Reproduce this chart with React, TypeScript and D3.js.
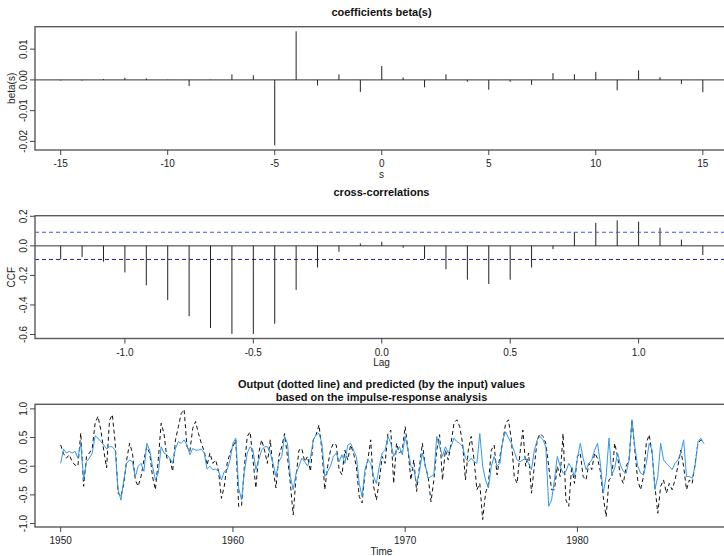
import * as d3 from "d3";

// impulse-response weights beta(s), s = -15..15
const betaLags = [-15, -14, -13, -12, -11, -10, -9, -8, -7, -6, -5, -4, -3, -2, -1, 0, 1, 2, 3, 4, 5, 6, 7, 8, 9, 10, 11, 12, 13, 14, 15];
const betaValues = [
  -0.0002, -0.0002, 0.0003, 0.0007, 0.0005, 0.0001, -0.002, 0.0001, 0.0018, 0.0015,
  -0.0213, 0.0158, -0.0018, 0.0018, -0.0039, 0.0045, 0.0008, -0.0024, 0.0018, -0.0006,
  -0.0032, -0.0006, -0.0016, 0.0022, 0.0018, 0.0026, -0.0034, 0.0031, 0.0009, -0.0013, -0.004,
];

// cross-correlations, lag in months -15..15
const ccfLagMonths = [-15, -14, -13, -12, -11, -10, -9, -8, -7, -6, -5, -4, -3, -2, -1, 0, 1, 2, 3, 4, 5, 6, 7, 8, 9, 10, 11, 12, 13, 14, 15];
const ccfValues = [
  -0.091, -0.076, -0.107, -0.18, -0.267, -0.367, -0.476, -0.556, -0.596, -0.596,
  -0.527, -0.298, -0.147, -0.04, 0.016, 0.027, -0.013, -0.089, -0.158, -0.229,
  -0.258, -0.229, -0.147, -0.022, 0.093, 0.156, 0.173, 0.164, 0.122, 0.042, -0.062,
];
const ccfBound = 0.092;

// output / predicted, sampled every 2 months from 1950
const seriesStart = 1950;
const seriesPerYear = 6;
const outputSeries = [
  0.37, 0.22, 0.14, 0.2, 0.08, 0.02, // 1950
  0.0, 0.58, -0.35, 0.17, 0.23, 0.31,
  0.75, 0.87, 0.63, 0.28, -0.03, 0.8,
  0.9, 0.4, -0.47, -0.53, -0.3, 0.11,
  0.4, 0.23, -0.24, -0.35, -0.18, 0.11,
  0.34, 0.23, -0.18, -0.41, 0.11, 0.75, // 1955
  0.57, 0.14, 0.14, -0.09, 0.46, 0.69,
  0.92, 0.99, 0.34, 0.26, 0.66, 0.78,
  0.57, 0.4, 0.26, 0.02, 0.23, 0.05,
  0.11, -0.09, -0.56, -0.35, 0.05, 0.23,
  0.34, 0.46, -0.7, -0.7, 0.0, 0.52, // 1960
  0.6, 0.11, -0.38, 0.23, 0.46, 0.28,
  0.05, 0.46, -0.06, -0.38, 0.17, 0.34,
  0.57, 0.17, -0.3, -0.85, -0.18, 0.28,
  0.31, 0.08, 0.17, -0.09, 0.46, 0.55,
  0.72, 0.28, -0.41, 0.0, 0.28, 0.4, // 1965
  0.37, -0.06, -0.15, 0.28, 0.11, 0.37,
  0.23, 0.0, -0.53, -0.64, -0.12, 0.11,
  0.46, -0.35, -0.59, -0.24, 0.17, 0.05,
  0.57, 0.63, -0.3, 0.4, 0.23, 0.28,
  0.69, 0.28, -0.24, 0.11, -0.44, 0.0, // 1970
  0.4, 0.0, -0.18, -0.62, -0.24, 0.28,
  0.55, -0.24, 0.28, 0.11, 0.4, 0.75,
  0.81, 0.69, 0.4, -0.24, 0.28, 0.52,
  0.11, -0.41, -0.3, -0.93, -0.47, -0.3,
  0.28, 0.37, -0.15, 0.17, 0.43, 0.75, // 1975
  0.81, 0.46, -0.18, -0.3, 0.23, 0.63,
  0.0, 0.23, -0.47, 0.0, 0.46, 0.57,
  0.52, 0.4, 0.0, -0.41, -0.41, 0.0,
  -0.18, 0.57, -0.59, -0.7, 0.0, -0.3,
  0.17, 0.23, -0.18, -0.24, 0.05, -0.06, // 1980
  0.23, 0.14, -0.09, -0.53, -0.88, -0.24,
  -0.18, 0.4, 0.17, -0.18, -0.3, 0.0,
  0.11, 0.81, 0.28, -0.24, -0.41, -0.18,
  0.4, 0.55, 0.23, -0.35, -0.82, -0.35,
  -0.24, -0.47, -0.3, -0.41, -0.24, 0.0, // 1985
  0.28, 0.0, -0.41, -0.24, -0.3, 0.05,
  0.4, 0.46, 0.4,
];
const predictedSeries = [
  0.05, 0.3, 0.23, 0.26, 0.23, 0.26, // 1950
  0.14, 0.4, -0.24, 0.08, 0.14, 0.23,
  0.53, 0.49, 0.43, 0.37, 0.3, 0.34,
  0.34, 0.28, -0.41, -0.59, -0.24, 0.05,
  0.11, 0.08, -0.18, 0.0, 0.05, -0.09,
  0.4, 0.28, 0.0, -0.24, -0.12, 0.34, // 1955
  0.23, 0.2, 0.14, 0.05, 0.31, 0.43,
  0.4, 0.46, 0.37, 0.2, 0.31, 0.28,
  0.28, 0.3, 0.23, -0.05, 0.0, -0.06,
  -0.05, -0.09, -0.24, -0.09, -0.06, 0.11,
  0.4, 0.49, -0.38, -0.59, -0.09, 0.23, // 1960
  0.34, 0.28, -0.06, 0.11, 0.28, 0.34,
  0.34, 0.23, 0.05, -0.18, 0.08, 0.17,
  0.52, 0.4, -0.18, -0.41, -0.12, 0.0,
  0.14, 0.08, 0.0, 0.14, 0.46, 0.55,
  0.57, 0.4, -0.18, -0.09, 0.0, 0.17, // 1965
  0.23, 0.08, 0.2, 0.05, 0.37, 0.4,
  0.28, 0.17, -0.3, -0.53, -0.06, 0.11,
  0.05, -0.18, -0.3, 0.0, 0.23, 0.28,
  0.52, 0.4, 0.17, 0.28, 0.34, 0.2,
  0.52, 0.28, 0.0, -0.06, -0.3, -0.09, // 1970
  0.23, 0.02, -0.21, -0.18, -0.15, 0.52,
  0.34, 0.17, 0.34, 0.23, 0.34, 0.49,
  0.43, 0.4, 0.34, 0.14, 0.08, 0.14,
  0.08, 0.05, 0.57, 0.0, -0.24, -0.38,
  0.0, 0.17, 0.0, 0.05, 0.46, 0.6, // 1975
  0.49, 0.4, 0.26, 0.11, 0.08, 0.11,
  0.14, 0.05, -0.06, 0.28, 0.46, 0.52,
  0.46, 0.34, -0.7, -0.59, -0.24, 0.17,
  0.0, -0.12, -0.09, 0.05, -0.03, -0.18,
  0.14, 0.4, 0.14, -0.06, 0.05, 0.11, // 1980
  0.28, 0.4, 0.05, -0.47, -0.18, 0.49,
  -0.15, -0.03, 0.23, 0.02, -0.09, -0.12,
  0.11, 0.81, 0.34, 0.0, -0.12, -0.15,
  0.05, 0.4, 0.28, -0.41, -0.18, 0.4,
  0.11, 0.05, 0.0, -0.06, 0.05, 0.11, // 1985
  0.23, 0.46, -0.18, -0.18, -0.21, 0.0,
  0.43, 0.49, 0.4,
];

const W = 724;
const H = 556;
const FONT = "'Liberation Sans', Arial, Helvetica, sans-serif";
const BOX = "#5a5a5a";
const AXIS = "#444";

const fmt2 = (v: number) => (v === 0 ? "0.00" : v.toFixed(2));
const fmt1 = (v: number) => v.toFixed(1);

function XTicks({ x, ticks, y0, fmt }: any) {
  return (
    <g>
      {ticks.map((t: number) => (
        <g key={t}>
          <line x1={x(t)} x2={x(t)} y1={y0} y2={y0 + 5} stroke={AXIS} />
          <text x={x(t)} y={y0 + 17} textAnchor="middle" fontSize={10} fill="#222">
            {fmt(t)}
          </text>
        </g>
      ))}
    </g>
  );
}

function YTicks({ y, ticks, x0, fmt }: any) {
  return (
    <g>
      {ticks.map((t: number) => (
        <g key={t}>
          <line x1={x0 - 5} x2={x0} y1={y(t)} y2={y(t)} stroke={AXIS} />
          <text
            transform={`translate(${x0 - 8},${y(t)}) rotate(-90)`}
            textAnchor="middle"
            fontSize={10}
            fill="#222"
          >
            {fmt(t)}
          </text>
        </g>
      ))}
    </g>
  );
}

export default function App() {
  const L = 35;
  const R = 728.5;

  /* ---------- top: beta(s) ---------- */
  const xB = d3.scaleLinear().domain([-16.2, 16.2]).range([L, R]);
  const yB = d3.scaleLinear().domain([-0.0228, 0.0173]).range([150, 26.7]);

  /* ---------- middle: ccf ---------- */
  const xC = d3.scaleLinear().domain([-1.35, 1.35]).range([L, R]);
  const yC = d3.scaleLinear().domain([-0.627, 0.204]).range([338.5, 215.7]);

  /* ---------- bottom: series ---------- */
  const xT = d3.scaleLinear().domain([1948.51, 1988.83]).range([L, 729.5]);
  const yT = d3.scaleLinear().domain([-1.06, 1.08]).range([527, 404.3]);
  const tOf = (i: number) => seriesStart + i / seriesPerYear;
  const line = d3
    .line<number>()
    .x((_, i) => xT(tOf(i)))
    .y((d) => yT(d));

  return (
    <div style={{ position: "absolute", left: 0, top: 0 }}>
      <svg width={W} height={H} style={{ display: "block", background: "#fff" }} fontFamily={FONT}>
        {/* top panel */}
        <text x={381.5} y={15.5} textAnchor="middle" fontSize={11} fontWeight="bold" fill="#111">
          coefficients beta(s)
        </text>
        <line x1={L} x2={R} y1={yB(0)} y2={yB(0)} stroke="#333" />
        {betaLags.map((s, i) => (
          <line key={s} x1={xB(s)} x2={xB(s)} y1={yB(0)} y2={yB(betaValues[i])} stroke="#222" />
        ))}
        <rect x={L} y={26.7} width={R - L} height={150 - 26.7} fill="none" stroke={BOX} strokeWidth={1.4} />
        <XTicks x={xB} ticks={[-15, -10, -5, 0, 5, 10, 15]} y0={150} fmt={(v: number) => String(v)} />
        <YTicks y={yB} ticks={[-0.02, -0.01, 0, 0.01]} x0={L} fmt={fmt2} />
        <text x={381.5} y={178} textAnchor="middle" fontSize={10} fill="#222">s</text>
        <text transform={`translate(15,${(26.7 + 150) / 2}) rotate(-90)`} textAnchor="middle" fontSize={10} fill="#222">
          beta(s)
        </text>

        {/* middle panel */}
        <text x={381.5} y={195.5} textAnchor="middle" fontSize={11} fontWeight="bold" fill="#111">
          cross-correlations
        </text>
        <line x1={L} x2={R} y1={yC(0)} y2={yC(0)} stroke="#333" />
        {ccfLagMonths.map((m, i) => (
          <line key={m} x1={xC(m / 12)} x2={xC(m / 12)} y1={yC(0)} y2={yC(ccfValues[i])} stroke="#222" />
        ))}
        <line x1={L} x2={R} y1={yC(ccfBound)} y2={yC(ccfBound)} stroke="#4a4aff" strokeDasharray="4,3" />
        <line x1={L} x2={R} y1={yC(-ccfBound)} y2={yC(-ccfBound)} stroke="#20209a" strokeDasharray="4,3" />
        <rect x={L} y={215.7} width={R - L} height={338.5 - 215.7} fill="none" stroke={BOX} strokeWidth={1.4} />
        <XTicks x={xC} ticks={[-1, -0.5, 0, 0.5, 1]} y0={338.5} fmt={fmt1} />
        <YTicks y={yC} ticks={[-0.6, -0.4, -0.2, 0, 0.2]} x0={L} fmt={fmt1} />
        <text x={381.5} y={366} textAnchor="middle" fontSize={10} fill="#222">Lag</text>
        <text transform={`translate(15,${(215.7 + 338.5) / 2}) rotate(-90)`} textAnchor="middle" fontSize={10} fill="#222">
          CCF
        </text>

        {/* bottom panel */}
        <text x={381.5} y={388} textAnchor="middle" fontSize={11} fontWeight="bold" fill="#111">
          Output (dotted line) and predicted (by the input) values
        </text>
        <text x={381.5} y={400.5} textAnchor="middle" fontSize={11} fontWeight="bold" fill="#111">
          based on the impulse-response analysis
        </text>
        <path d={line(outputSeries) || ""} fill="none" stroke="#111" strokeWidth={1} strokeDasharray="4,3" />
        <path d={line(predictedSeries) || ""} fill="none" stroke="#3399ee" strokeWidth={1} />
        <rect x={L} y={404.3} width={729.5 - L} height={527 - 404.3} fill="none" stroke={BOX} strokeWidth={1.4} />
        <XTicks x={xT} ticks={[1950, 1960, 1970, 1980]} y0={527} fmt={(v: number) => String(v)} />
        <YTicks y={yT} ticks={[-1, -0.5, 0, 0.5, 1]} x0={L} fmt={fmt1} />
        <text x={381.5} y={555} textAnchor="middle" fontSize={10} fill="#222">Time</text>
      </svg>
    </div>
  );
}
